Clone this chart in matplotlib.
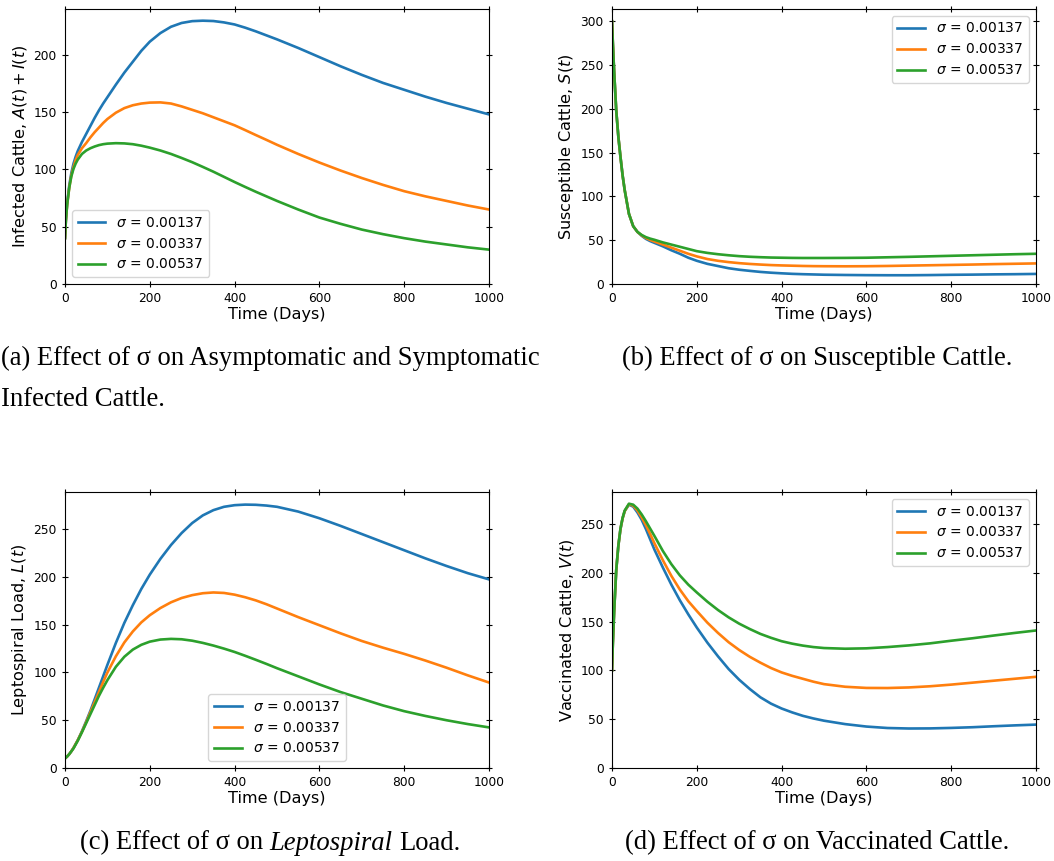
import matplotlib
matplotlib.use("Agg")
import matplotlib.pyplot as plt

# ---------------- data ----------------
t = [0, 2, 5, 10, 15, 20, 25, 30, 40, 50,
     60, 70, 80, 90, 100, 120, 140, 160, 180, 200,
     225, 250, 275, 300, 325, 350, 375, 400, 425, 450,
     475, 500, 550, 600, 650, 700, 750, 800, 850, 900,
     950, 1000]

sigma_labels = [r"$\sigma$ = 0.00137", r"$\sigma$ = 0.00337", r"$\sigma$ = 0.00537"]

# (a) Infected A(t)+I(t)
inf_1 = [40, 55, 70, 86, 97, 105, 111, 116, 124, 131,
         138, 145, 151.5, 157.5, 163, 174, 184.5, 194, 203.5, 211.5,
         219, 224.5, 227.8, 229.4, 229.8, 229.5, 228.3, 226.5, 223.7, 220.5,
         217, 213.5, 206, 198, 190, 182.5, 175.5, 169.5, 163.5, 158,
         153, 148]
inf_2 = [40, 55, 69, 84, 95, 102, 108, 112.5, 118.5, 123,
         128, 132.5, 136.5, 140.5, 144, 149.5, 153.5, 156, 157.5, 158.3,
         158.5, 157.5, 155, 152, 149, 145.5, 142, 138.5, 134.3, 130,
         125.8, 121.5, 113.5, 106, 99, 92.5, 86.5, 81, 76.5, 72.5,
         68.5, 65]
inf_3 = [40, 55, 69, 84, 94, 100.5, 105, 108.5, 113.5, 116.5,
         118.5, 120, 121.2, 122, 122.5, 122.9, 122.7, 122, 120.7, 119,
         116.5, 113.5, 110, 106.3, 102.2, 98, 93.5, 89, 84.7, 80.5,
         76.5, 72.5, 65, 58, 52.5, 47.5, 43.5, 40, 37, 34.5,
         32, 30]

# (b) Susceptible S(t)
sus_1 = [300, 275, 243, 198, 168, 145, 124, 107, 80, 66,
         59.5, 55, 51.5, 49, 47, 43, 38.5, 34.5, 30, 26.5,
         23, 20.5, 18, 16.3, 15, 13.8, 12.9, 12.2, 11.6, 11.2,
         10.9, 10.6, 10.3, 10.1, 10, 10, 10.2, 10.5, 10.7, 11,
         11.2, 11.5]
sus_2 = [300, 275, 243, 198, 168, 145, 124, 107, 80, 66,
         59.5, 55.5, 52.5, 50.3, 48.5, 45, 41.5, 38, 34.5, 31.5,
         28.5, 26.5, 25, 23.8, 22.9, 22.2, 21.6, 21.2, 20.9, 20.6,
         20.4, 20.3, 20.2, 20.3, 20.6, 21, 21.4, 21.8, 22.2, 22.7,
         23.1, 23.5]
sus_3 = [300, 275, 243, 198, 168, 145, 124, 107, 80, 66,
         59.5, 56, 53.5, 51.8, 50.5, 47.5, 45, 42.5, 40, 37.5,
         35.5, 34, 32.8, 31.8, 31.1, 30.6, 30.2, 30, 29.8, 29.7,
         29.7, 29.7, 29.8, 30, 30.5, 31, 31.6, 32.2, 32.8, 33.4,
         34, 34.5]

# (c) Leptospiral load L(t)
lep_1 = [10, 10.8, 12, 14.5, 17.5, 21, 25, 29, 38.5, 49,
         60, 72, 84, 96, 108, 131, 152, 170.5, 187.5, 202.5,
         219, 233.5, 246, 256.5, 264.5, 270, 273.5, 275.2, 275.8, 275.6,
         274.8, 273.5, 268.5, 261.5, 253.5, 245, 236.5, 228, 219.5, 211.5,
         204, 197.5]
lep_2 = [10, 10.8, 12, 14.5, 17.5, 21, 25, 29, 38, 48,
         58.5, 69, 79.5, 90, 100, 117, 131.5, 143, 152.5, 160,
         167.5, 173.5, 178, 181, 183, 183.8, 183.3, 181.5, 178.8, 175.5,
         171.5, 167, 158, 149.5, 141, 133, 126, 119.5, 112.5, 105,
         97, 89.5]
lep_3 = [10, 10.8, 12, 14.5, 17.5, 20.5, 24.5, 28.5, 37.5, 47,
         56.5, 66, 75.5, 84, 92, 106, 116.5, 124, 129, 132.3,
         134.5, 135.2, 134.8, 133.3, 131, 128.2, 125, 121.5, 117.5, 113.3,
         109, 104.5, 96, 87.5, 79.5, 72.5, 65.5, 59.5, 54.5, 50,
         46, 42.5]

# (d) Vaccinated V(t)
vac_1 = [100, 128, 160, 203, 228, 245, 256, 263.5, 270, 268,
         262, 254.5, 245, 234.5, 224, 205.5, 188, 172, 157.5, 144,
         128.5, 114.5, 101.5, 90.5, 81, 72.5, 66, 61, 57, 53.5,
         50.8, 48.5, 45, 42.5, 41, 40.5, 40.6, 41.1, 41.8, 42.8,
         43.7, 44.5]
vac_2 = [100, 128, 160, 203, 228, 245, 256, 263.5, 270.5, 269,
         264, 257, 249, 240, 230.5, 213, 197, 183, 171, 161,
         149, 138.5, 129, 121, 114, 108, 102.5, 98, 94.5, 91.5,
         88.5, 86, 83.3, 82.1, 82, 82.6, 83.8, 85.5, 87.5, 89.5,
         91.5, 93.5]
vac_3 = [100, 128, 160, 203, 228, 245.5, 256.5, 264, 271, 270,
         266, 260, 253, 245.5, 238, 222.5, 209, 197.5, 188, 180,
         170.5, 162, 154.5, 148, 142.5, 137.5, 133.5, 130, 127.5, 125.5,
         124, 123, 122.3, 122.7, 124, 125.7, 127.8, 130.5, 133, 135.8,
         138.5, 141]

x_ticks = [0, 200, 400, 600, 800, 1000]

# ---------------- figure ----------------
W, H = 1054, 861
fig = plt.figure(figsize=(W / 100, H / 100), dpi=100)

def rect(l, r, top, bot):
    return [l / W, 1 - bot / H, (r - l) / W, (bot - top) / H]

panels = [
    (rect(65, 489, 9, 284), [inf_1, inf_2, inf_3], r"Infected Cattle, $A(t) + I(t)$", 240, [0, 50, 100, 150, 200], "lower left"),
    (rect(612, 1036, 9, 284), [sus_1, sus_2, sus_3], r"Susceptible Cattle, $S(t)$", 314, [0, 50, 100, 150, 200, 250, 300], "upper right"),
    (rect(65, 489, 492, 768), [lep_1, lep_2, lep_3], r"Leptospiral Load, $L(t)$", 289, [0, 50, 100, 150, 200, 250], "lower center"),
    (rect(612, 1036, 492, 768), [vac_1, vac_2, vac_3], r"Vaccinated Cattle, $V(t)$", 283, [0, 50, 100, 150, 200, 250], "upper right"),
]

colors = ["#1f77b4", "#ff7f0e", "#2ca02c"]

for pos, series, ylab, ytop, yt, lloc in panels:
    ax = fig.add_axes(pos)
    for s, c, lab in zip(series, colors, sigma_labels):
        ax.plot(t, s, color=c, lw=1.9, label=lab)
    ax.set_xlim(0, 1000)
    ax.set_ylim(0, ytop)
    ax.set_xticks(x_ticks)
    ax.set_yticks(yt)
    ax.tick_params(direction="inout", top=True, right=True, labelsize=8.8, length=5)
    ax.set_xlabel("Time (Days)", fontsize=11.6, labelpad=1)
    ax.set_ylabel(ylab, fontsize=11.6, labelpad=3)
    ax.legend(loc=lloc, fontsize=10)

# ---------------- captions ----------------
serif = "Liberation Serif"
cfs = 19.2

fig.text(1 / W, 1 - 358 / H, "(a) Effect of σ on Asymptomatic and Symptomatic",
         family=serif, fontsize=cfs, ha="left", va="center")
fig.text(1 / W, 1 - 399 / H, "Infected Cattle.",
         family=serif, fontsize=cfs, ha="left", va="center")
fig.text(817 / W, 1 - 358 / H, "(b) Effect of σ on Susceptible Cattle.",
         family=serif, fontsize=cfs, ha="center", va="center")
fig.text(817 / W, 1 - 843 / H, "(d) Effect of σ on Vaccinated Cattle.",
         family=serif, fontsize=cfs, ha="center", va="center")

# (c) caption with italic word, assembled from pieces
renderer = fig.canvas.get_renderer()
pieces = [("(c) Effect of σ on", "normal"), ("Leptospiral", "italic"), ("Load.", "normal")]
probe1 = fig.text(0, 0, "a a", family=serif, fontsize=cfs)
probe2 = fig.text(0, 0, "aa", family=serif, fontsize=cfs)
space_w = probe1.get_window_extent(renderer).width - probe2.get_window_extent(renderer).width
probe1.remove(); probe2.remove()
objs = []
for txt, st in pieces:
    o = fig.text(0, 1 - 843 / H, txt, family=serif, style=st, fontsize=cfs, ha="left", va="center")
    objs.append(o)
widths = [o.get_window_extent(renderer).width for o in objs]
total = sum(widths) + space_w * (len(objs) - 1)
x = 270 - total / 2
for o, w in zip(objs, widths):
    o.set_x(x / W)
    x += w + space_w

fig.savefig("out.png", dpi=100)
